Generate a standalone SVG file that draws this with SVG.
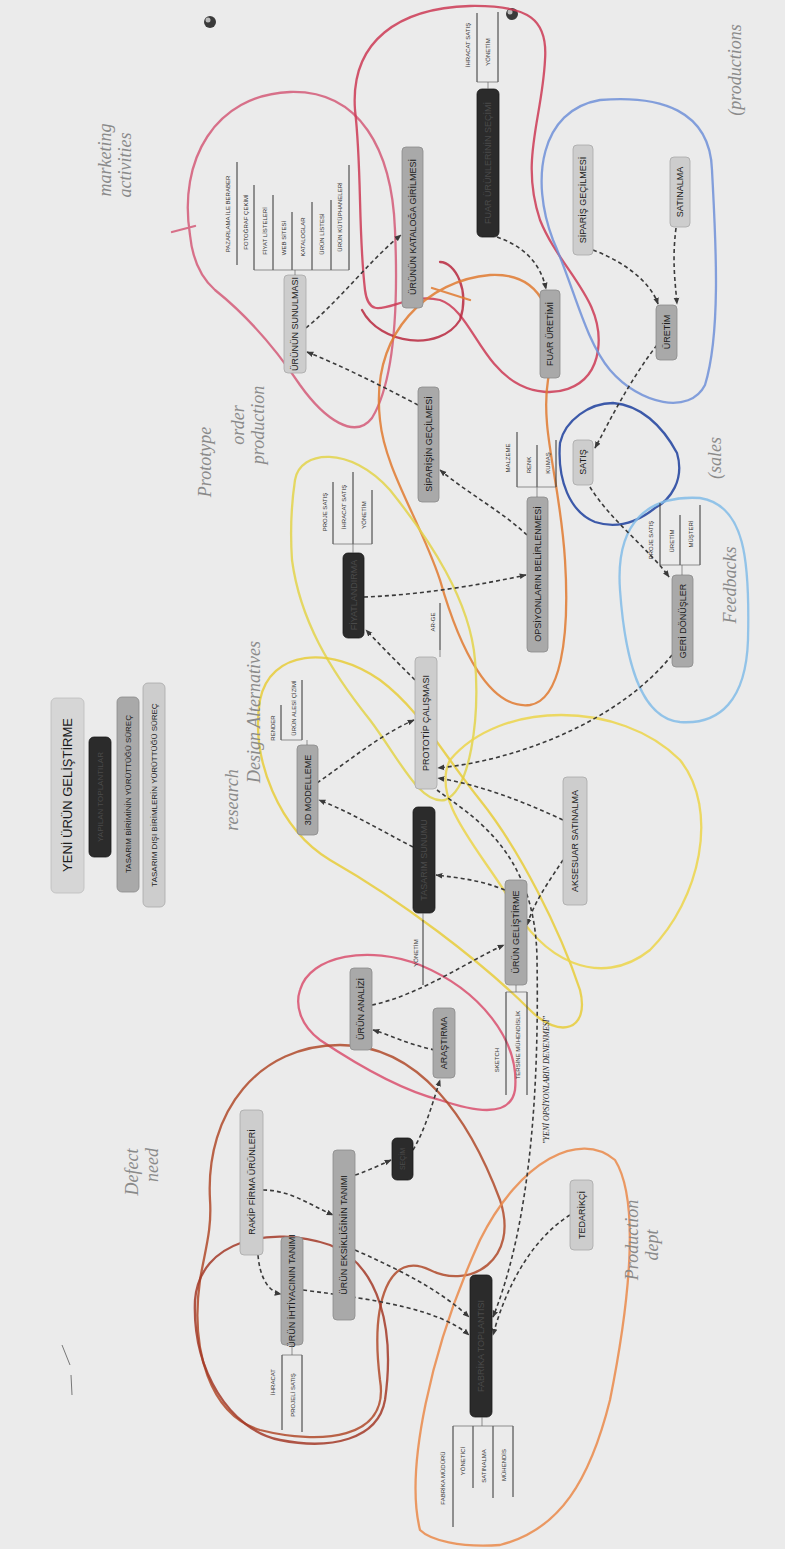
<svg xmlns="http://www.w3.org/2000/svg" width="785" height="1549" viewBox="0 0 785 1549">
<defs>
<style>
.bg{fill:#ebebeb}
.dk{fill:#2b2b2b;stroke:#1a1a1a;stroke-width:0.8}
.md{fill:#a9a9a9;stroke:#8a8a8a;stroke-width:0.8}
.lt{fill:#cdcdcd;stroke:#a8a8a8;stroke-width:0.8}
.tt{fill:#d6d6d6;stroke:#bdbdbd;stroke-width:0.8}
text{font-family:"Liberation Sans",Arial,sans-serif}
.lb{font-size:9px;fill:#1b1b1b;text-anchor:middle;dominant-baseline:central}
.lbd{font-size:9px;fill:#4a4a4a;text-anchor:middle;dominant-baseline:central}
.sm{font-size:6px;fill:#333;text-anchor:middle;dominant-baseline:central}
.ln{stroke:#333;stroke-width:1;fill:none}
.br{stroke:#666;stroke-width:0.7;fill:none}
.cn{stroke:#3a3a3a;stroke-width:1.6;fill:none;stroke-dasharray:4 3}
.pen{fill:none;stroke-width:2.3;stroke-linecap:round;stroke-linejoin:round;opacity:0.85}
.hw{font-family:"Liberation Serif",serif;font-style:italic;font-size:18px;fill:#8a8a8a;text-anchor:middle;dominant-baseline:central}
</style>
<marker id="ah" viewBox="0 0 10 10" refX="9" refY="5" markerWidth="7" markerHeight="7" orient="auto" markerUnits="userSpaceOnUse">
<path d="M0,1 L10,5 L0,9 Z" fill="#3a3a3a"/>
</marker>
</defs>
<rect class="bg" x="0" y="0" width="785" height="1549"/>

<g id="marks">
<circle cx="210" cy="22" r="6" fill="#3a3a3a"/><circle cx="208" cy="20" r="2.5" fill="#bbb"/>
<circle cx="512" cy="14" r="6" fill="#3a3a3a"/><circle cx="510" cy="12" r="2.5" fill="#bbb"/>
<path d="M62,1345 L70,1365 M71,1375 L72,1395" stroke="#777" stroke-width="1" fill="none"/>
</g>

<g id="legend">
<rect class="tt" x="51" y="698" width="33" height="195" rx="5"/>
<text class="lb" style="font-size:13px" x="67" y="795" transform="rotate(-90 67 795)">YENİ ÜRÜN GELİŞTİRME</text>
<rect class="dk" x="89" y="737" width="22" height="120" rx="5"/>
<text class="lbd" style="font-size:8px" x="100" y="797" transform="rotate(-90 100 797)">YAPILAN TOPLANTILAR</text>
<rect class="md" x="117" y="697" width="22" height="195" rx="5"/>
<text class="lb" style="font-size:8px" x="128" y="794" transform="rotate(-90 128 794)">TASARIM BİRİMİNİN YÜRÜTTÜĞÜ SÜREÇ</text>
<rect class="lt" x="143" y="683" width="22" height="224" rx="5"/>
<text class="lb" style="font-size:8px" x="154" y="795" transform="rotate(-90 154 795)">TASARIM DIŞI BİRİMLERİN YÜRÜTTÜĞÜ SÜREÇ</text>
</g>

<g id="loops">
<path class="pen" stroke="#d45a78" d="M190,235 C178,160 215,95 290,92 C360,90 392,150 395,230 C398,300 395,380 372,418 C355,440 325,420 300,385 C270,340 240,310 215,290 C198,275 192,255 190,235 Z M172,232 L195,226"/>
<path class="pen" stroke="#cc3a55" d="M355,110 C350,40 400,8 470,6 C530,5 548,20 545,60 C542,120 520,160 540,220 C560,270 605,300 598,350 C592,392 550,400 520,385 C480,365 470,310 440,300 C400,290 370,330 365,290 C358,230 362,170 355,110 Z"/>
<path class="pen" stroke="#b8283e" d="M362,310 C380,345 440,352 460,320 C470,290 455,262 440,262"/>
<path class="pen" stroke="#e07a30" d="M380,420 C370,330 430,280 490,275 C545,272 560,320 548,380 C540,430 560,480 565,560 C570,640 560,700 530,705 C490,710 460,650 440,580 C420,520 385,470 380,420 Z M432,288 L470,300"/>
<path class="pen" stroke="#7090d8" d="M553,240 C530,180 540,110 600,100 C660,95 710,110 712,170 C715,230 722,330 705,385 C690,415 640,405 610,370 C585,340 575,290 553,240 Z"/>
<path class="pen" stroke="#1d3f9e" stroke-width="3.2" d="M560,443 C565,420 590,403 613,403 C640,405 662,425 677,453 C685,480 670,500 655,508 C640,520 620,530 595,522 C570,512 557,480 560,443 Z"/>
<path class="pen" stroke="#82bce8" d="M620,590 C615,520 650,495 700,498 C745,505 750,560 748,640 C746,700 720,725 680,722 C640,718 625,660 620,590 Z"/>
<path class="pen" stroke="#e3d34a" d="M295,480 C300,450 350,445 390,490 C430,540 470,600 475,660 C480,720 470,790 445,800 C420,805 400,760 370,720 C330,670 300,620 292,560 C290,530 292,500 295,480 Z"/>
<path class="pen" stroke="#e8cc3a" d="M260,700 C270,650 330,645 380,680 C420,710 440,750 480,800 C520,850 560,930 580,990 C590,1030 560,1040 530,1010 C480,960 400,900 330,860 C280,830 250,760 260,700 Z"/>
<path class="pen" stroke="#ecd54a" d="M450,760 C500,700 620,700 680,760 C720,810 700,900 650,950 C600,990 540,960 510,900 C480,850 430,800 450,760 Z"/>
<path class="pen" stroke="#d9506e" d="M300,990 C310,955 370,945 420,965 C480,990 520,1040 515,1090 C510,1120 470,1110 440,1100 C400,1090 350,1060 320,1040 C300,1025 295,1005 300,990 Z"/>
<path class="pen" stroke="#b04a2a" d="M210,1200 C205,1110 260,1045 340,1045 C420,1045 470,1120 500,1200 C520,1260 470,1290 430,1270 C390,1250 370,1300 380,1380 C390,1440 320,1445 260,1430 C210,1415 190,1350 200,1280 C205,1250 212,1230 210,1200 Z"/>
<path class="pen" stroke="#a33a28" d="M195,1300 C200,1240 270,1225 330,1245 C380,1265 395,1330 385,1400 C378,1440 330,1450 280,1440 C230,1430 192,1370 195,1300"/>
<path class="pen" stroke="#ea8a4a" d="M420,1530 C405,1470 430,1350 480,1240 C520,1160 580,1130 615,1160 C640,1200 630,1300 610,1400 C590,1480 560,1530 500,1545 C460,1548 430,1540 420,1530 Z"/>
</g>

<g id="notes">
<text class="hw" x="105" y="160" transform="rotate(-90 105 160)">marketing</text>
<text class="hw" x="125" y="165" transform="rotate(-90 125 165)">activities</text>
<text class="hw" x="735" y="70" transform="rotate(-90 735 70)">(productions</text>
<text class="hw" x="715" y="458" transform="rotate(-90 715 458)">(sales</text>
<text class="hw" x="730" y="585" transform="rotate(-90 730 585)">Feedbacks</text>
<text class="hw" x="238" y="425" transform="rotate(-90 238 425)">order</text>
<text class="hw" x="258" y="425" transform="rotate(-90 258 425)">production</text>
<text class="hw" x="205" y="462" transform="rotate(-90 205 462)">Prototype</text>
<text class="hw" x="254" y="712" transform="rotate(-90 254 712)">Design Alternatives</text>
<text class="hw" x="232" y="800" transform="rotate(-90 232 800)">research</text>
<text class="hw" x="132" y="1172" transform="rotate(-90 132 1172)">Defect</text>
<text class="hw" x="152" y="1165" transform="rotate(-90 152 1165)">need</text>
<text class="hw" x="632" y="1240" transform="rotate(-90 632 1240)">Production</text>
<text class="hw" x="652" y="1245" transform="rotate(-90 652 1245)">dept</text>
</g>

<g id="connectors">
<path class="cn" marker-end="url(#ah)" d="M258,1255 C260,1280 270,1292 281,1294"/>
<path class="cn" marker-end="url(#ah)" d="M263,1190 C290,1190 310,1205 333,1215"/>
<path class="cn" marker-end="url(#ah)" d="M355,1175 C370,1170 380,1165 391,1160"/>
<path class="cn" marker-end="url(#ah)" d="M413,1150 C425,1130 432,1105 440,1080"/>
<path class="cn" marker-end="url(#ah)" d="M435,1050 C410,1045 390,1035 373,1030"/>
<path class="cn" marker-end="url(#ah)" d="M372,1005 C420,995 470,960 504,945"/>
<path class="cn" marker-end="url(#ah)" d="M355,1250 C400,1270 440,1290 469,1317"/>
<path class="cn" marker-end="url(#ah)" d="M303,1290 C380,1300 440,1310 469,1335"/>
<path class="cn" marker-end="url(#ah)" d="M570,1215 C530,1240 505,1290 493,1335"/>
<path class="cn" marker-end="url(#ah)" d="M437,790 C470,815 536,850 537,960 C539,1080 532,1220 493,1317"/>
<path class="cn" marker-end="url(#ah)" d="M672,655 C620,720 520,760 438,768"/>
<path class="cn" marker-end="url(#ah)" d="M563,820 C520,800 480,785 438,778"/>
<path class="cn" marker-end="url(#ah)" d="M563,860 C550,880 535,900 527,925"/>
<path class="cn" marker-end="url(#ah)" d="M505,890 C480,880 460,878 436,875"/>
<path class="cn" marker-end="url(#ah)" d="M413,847 C380,830 350,812 319,800"/>
<path class="cn" marker-end="url(#ah)" d="M317,783 C350,760 380,735 414,720"/>
<path class="cn" marker-end="url(#ah)" d="M415,680 C395,660 380,645 366,630"/>
<path class="cn" marker-end="url(#ah)" d="M364,597 C420,595 480,585 526,575"/>
<path class="cn" marker-end="url(#ah)" d="M527,535 C500,510 470,495 440,470"/>
<path class="cn" marker-end="url(#ah)" d="M418,405 C380,385 340,365 307,352"/>
<path class="cn" marker-end="url(#ah)" d="M306,328 C340,300 370,260 401,235"/>
<path class="cn" marker-end="url(#ah)" d="M497,237 C520,245 540,260 546,289"/>
<path class="cn" marker-end="url(#ah)" d="M593,250 C620,260 650,280 658,304"/>
<path class="cn" marker-end="url(#ah)" d="M676,228 C672,260 675,280 677,304"/>
<path class="cn" marker-end="url(#ah)" d="M657,345 C630,380 610,420 595,448"/>
<path class="cn" marker-end="url(#ah)" d="M590,487 C610,520 650,550 669,577"/>
<text style="font-family:'Liberation Serif',serif;font-style:italic;font-size:8px;fill:#222;text-anchor:middle;dominant-baseline:central" x="546" y="1080" transform="rotate(-90 546 1080)">"YENİ OPSİYONLARIN DENENMESİ"</text>
</g>

<g id="n-sunulmasi">
<rect class="lt" x="284" y="275" width="22" height="98" rx="4"/>
<text class="lb" x="295" y="324" transform="rotate(-90 295 324)">ÜRÜNÜN SUNULMASI</text>
<path class="ln" d="M237,162 V265 M254,185 V270 M273,195 V270 M292,212 V270 M312,202 V270 M331,200 V270 M349,165 V270"/>
<path class="br" d="M254,270 H349 M295,270 V275"/>
<text class="sm" x="228" y="214" transform="rotate(-90 228 214)">PAZARLAMA İLE BERABER</text>
<text class="sm" x="246" y="222" transform="rotate(-90 246 222)">FOTOĞRAF ÇEKİMİ</text>
<text class="sm" x="265" y="231" transform="rotate(-90 265 231)">FİYAT LİSTELERİ</text>
<text class="sm" x="284" y="238" transform="rotate(-90 284 238)">WEB SİTESİ</text>
<text class="sm" x="303" y="237" transform="rotate(-90 303 237)">KATALOGLAR</text>
<text class="sm" x="322" y="234" transform="rotate(-90 322 234)">ÜRÜN LİSTESİ</text>
<text class="sm" x="340" y="217" transform="rotate(-90 340 217)">ÜRÜN KÜTÜPHANELERİ</text>
</g>
<g id="n-katalog">
<rect class="md" x="402" y="147" width="21" height="161" rx="4"/>
<text class="lb" x="412.5" y="227" transform="rotate(-90 412.5 227)">ÜRÜNÜN KATALOĞA GİRİLMESİ</text>
</g>
<g id="n-fuarsecim">
<rect class="dk" x="477" y="89" width="22" height="148" rx="5"/>
<text class="lbd" x="488" y="163" transform="rotate(-90 488 163)">FUAR ÜRÜNLERİNİN SEÇİMİ</text>
<path class="ln" d="M477,13 V82 M498,12 V82"/>
<path class="br" d="M477,82 H498 M488,82 V89"/>
<text class="sm" x="468" y="45" transform="rotate(-90 468 45)">İHRACAT SATIŞ</text>
<text class="sm" x="488" y="52" transform="rotate(-90 488 52)">YÖNETİM</text>
</g>
<g id="n-fuaruretim">
<rect class="md" x="540" y="290" width="20" height="88" rx="4"/>
<text class="lb" x="550" y="334" transform="rotate(-90 550 334)">FUAR ÜRETİMİ</text>
</g>
<g id="n-siparis">
<rect class="lt" x="573" y="145" width="20" height="110" rx="4"/>
<text class="lb" x="583" y="200" transform="rotate(-90 583 200)">SİPARİŞ GEÇİLMESİ</text>
</g>
<g id="n-satinalma">
<rect class="lt" x="670" y="157" width="20" height="70" rx="4"/>
<text class="lb" x="680" y="192" transform="rotate(-90 680 192)">SATINALMA</text>
</g>
<g id="n-uretim">
<rect class="md" x="656" y="305" width="21" height="55" rx="4"/>
<text class="lb" x="666.5" y="332" transform="rotate(-90 666.5 332)">ÜRETİM</text>
</g>
<g id="n-satis">
<rect class="lt" x="573" y="440" width="20" height="45" rx="4"/>
<text class="lb" x="583" y="462" transform="rotate(-90 583 462)">SATIŞ</text>
</g>
<g id="n-geri">
<rect class="md" x="672" y="575" width="21" height="92" rx="4"/>
<text class="lb" x="682.5" y="621" transform="rotate(-90 682.5 621)">GERİ DÖNÜŞLER</text>
<path class="ln" d="M660,503 V565 M680,515 V565 M700,505 V565"/>
<path class="br" d="M660,565 H700 M682,565 V575"/>
<text class="sm" x="651" y="540" transform="rotate(-90 651 540)">PROJE SATIŞ</text>
<text class="sm" x="672" y="541" transform="rotate(-90 672 541)">ÜRETİM</text>
<text class="sm" x="691" y="534" transform="rotate(-90 691 534)">MÜŞTERİ</text>
</g>
<g id="n-opsiyon">
<rect class="md" x="527" y="497" width="21" height="155" rx="4"/>
<text class="lb" x="537.5" y="574" transform="rotate(-90 537.5 574)">OPSİYONLARIN BELİRLENMESİ</text>
<path class="ln" d="M517,432 V487 M537,445 V487 M556,440 V487"/>
<path class="br" d="M517,487 H556 M537,487 V497"/>
<text class="sm" x="508" y="458" transform="rotate(-90 508 458)">MALZEME</text>
<text class="sm" x="529" y="465" transform="rotate(-90 529 465)">RENK</text>
<text class="sm" x="548" y="463" transform="rotate(-90 548 463)">KUMAŞ</text>
</g>
<g id="n-siparisin">
<rect class="md" x="418" y="387" width="21" height="115" rx="4"/>
<text class="lb" x="428.5" y="444" transform="rotate(-90 428.5 444)">SİPARİŞİN GEÇİLMESİ</text>
</g>
<g id="n-fiyat">
<rect class="dk" x="343" y="553" width="21" height="85" rx="5"/>
<text class="lbd" x="353.5" y="595" transform="rotate(-90 353.5 595)">FİYATLANDIRMA</text>
<path class="ln" d="M333,482 V544 M353,472 V544 M372,490 V544"/>
<path class="br" d="M333,544 H372 M353,544 V553"/>
<text class="sm" x="325" y="512" transform="rotate(-90 325 512)">PROJE SATIŞ</text>
<text class="sm" x="344" y="507" transform="rotate(-90 344 507)">İHRACAT SATIŞ</text>
<text class="sm" x="364" y="515" transform="rotate(-90 364 515)">YÖNETİM</text>
</g>
<g id="n-prototip">
<rect class="lt" x="415" y="657" width="22" height="132" rx="4"/>
<text class="lb" x="426" y="723" transform="rotate(-90 426 723)">PROTOTİP ÇALIŞMASI</text>
<path class="ln" d="M440,603 V650"/>
<path class="br" d="M440,650 V657"/>
<text class="sm" x="433" y="622" transform="rotate(-90 433 622)">AR-GE</text>
</g>
<g id="n-modelleme">
<rect class="md" x="297" y="745" width="21" height="90" rx="4"/>
<text class="lb" x="307.5" y="790" transform="rotate(-90 307.5 790)">3D MODELLEME</text>
<path class="ln" d="M281,705 V740 M302,680 V740"/>
<path class="br" d="M281,740 H302 M307,740 V745"/>
<text class="sm" x="273" y="728" transform="rotate(-90 273 728)">RENDER</text>
<text class="sm" x="294" y="708" transform="rotate(-90 294 708)">ÜRÜN ALESİ ÇİZİMİ</text>
</g>
<g id="n-tasarim">
<rect class="dk" x="413" y="807" width="22" height="106" rx="5"/>
<text class="lbd" x="424" y="860" transform="rotate(-90 424 860)">TASARIM SUNUMU</text>
<path class="ln" d="M423,920 V985"/>
<path class="br" d="M423,913 V920"/>
<text class="sm" x="416" y="953" transform="rotate(-90 416 953)">YÖNETİM</text>
</g>
<g id="n-gelistirme">
<rect class="md" x="505" y="880" width="22" height="105" rx="4"/>
<text class="lb" x="516" y="932" transform="rotate(-90 516 932)">ÜRÜN GELİŞTİRME</text>
<path class="ln" d="M506,992 V1095 M527,992 V1095"/>
<path class="br" d="M506,992 H527 M516,985 V992"/>
<text class="sm" x="497" y="1060" transform="rotate(-90 497 1060)">SKETCH</text>
<text class="sm" x="518" y="1045" transform="rotate(-90 518 1045)">TERSİNE MÜHENDİSLİK</text>
</g>
<g id="n-aksesuar">
<rect class="lt" x="563" y="777" width="24" height="128" rx="4"/>
<text class="lb" x="575" y="841" transform="rotate(-90 575 841)">AKSESUAR SATINALMA</text>
</g>
<g id="n-analiz">
<rect class="md" x="350" y="968" width="22" height="82" rx="4"/>
<text class="lb" x="361" y="1009" transform="rotate(-90 361 1009)">ÜRÜN ANALİZİ</text>
</g>
<g id="n-arastirma">
<rect class="md" x="433" y="1008" width="22" height="70" rx="4"/>
<text class="lb" x="444" y="1043" transform="rotate(-90 444 1043)">ARAŞTIRMA</text>
</g>
<g id="n-secim">
<rect class="dk" x="392" y="1138" width="21" height="42" rx="5"/>
<text class="lbd" style="font-size:7px" x="402.5" y="1159" transform="rotate(-90 402.5 1159)">SEÇİM</text>
</g>
<g id="n-eksiklik">
<rect class="md" x="333" y="1150" width="22" height="170" rx="4"/>
<text class="lb" x="344" y="1235" transform="rotate(-90 344 1235)">ÜRÜN EKSİKLİĞİNİN TANIMI</text>
</g>
<g id="n-rakip">
<rect class="lt" x="240" y="1110" width="23" height="145" rx="4"/>
<text class="lb" x="251.5" y="1182" transform="rotate(-90 251.5 1182)">RAKİP FİRMA ÜRÜNLERİ</text>
</g>
<g id="n-ihtiyac">
<rect class="md" x="281" y="1237" width="22" height="108" rx="4"/>
<text class="lb" x="292" y="1291" transform="rotate(-90 292 1291)">ÜRÜN İHTİYACININ TANIMI</text>
<path class="ln" d="M282,1355 V1430 M302,1355 V1432"/>
<path class="br" d="M282,1355 H302 M292,1345 V1355"/>
<text class="sm" x="273" y="1382" transform="rotate(-90 273 1382)">İHRACAT</text>
<text class="sm" x="293" y="1395" transform="rotate(-90 293 1395)">PROJELİ SATIŞ</text>
</g>
<g id="n-fabrika">
<rect class="dk" x="470" y="1275" width="22" height="142" rx="5"/>
<text class="lbd" x="481" y="1346" transform="rotate(-90 481 1346)">FABRİKA TOPLANTISI</text>
<path class="ln" d="M453,1426 V1527 M473,1426 V1488 M493,1426 V1498 M513,1426 V1497"/>
<path class="br" d="M453,1426 H513 M482,1417 V1426"/>
<text class="sm" x="443" y="1478" transform="rotate(-90 443 1478)">FABRİKA MÜDÜRÜ</text>
<text class="sm" x="463" y="1461" transform="rotate(-90 463 1461)">YÖNETİCİ</text>
<text class="sm" x="484" y="1466" transform="rotate(-90 484 1466)">SATINALMA</text>
<text class="sm" x="504" y="1465" transform="rotate(-90 504 1465)">MÜHENDİS</text>
</g>
<g id="n-tedarikci">
<rect class="lt" x="570" y="1180" width="23" height="70" rx="4"/>
<text class="lb" x="581.5" y="1215" transform="rotate(-90 581.5 1215)">TEDARİKÇİ</text>
</g>
</svg>
